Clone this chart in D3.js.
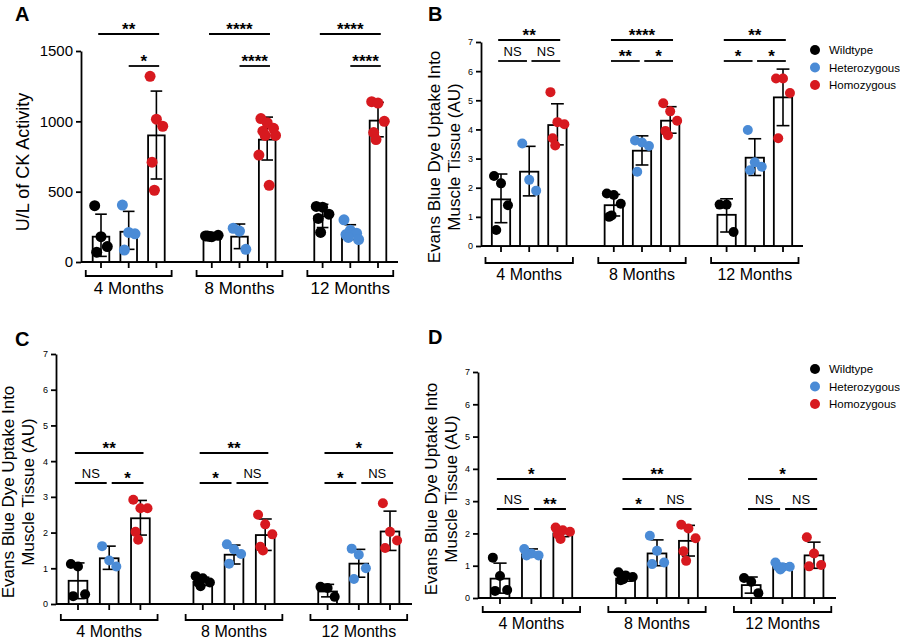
<!DOCTYPE html>
<html><head><meta charset="utf-8">
<script src="https://cdn.jsdelivr.net/npm/d3@7"></script>
<style>body{margin:0;background:#fff;font-family:"Liberation Sans",Arial,sans-serif}</style>
</head><body><svg id="fig" width="900" height="638"></svg>
<script>
// data: group order = 4M (WT,Het,Hom), 8M, 12M
var months = ["4 Months", "8 Months", "12 Months"];
var genotypes = ["Wildtype", "Heterozygous", "Homozygous"];
var colors = ["#000000", "#4a8bd6", "#d7191f"];

var aMeans = [180, 215, 900, 185, 180, 870, 325, 205, 1005];
var aErr = [[40,340],[90,360],[590,1215],[175,195],[95,270],[725,1030],[245,410],[160,265],[890,1135]];
var aPoints = [[400,180,110,70],[405,210,200,85],[1320,1015,965,710,510],[185,180,190,185,182],[240,220,90],
  [1020,990,950,930,900,900,760,545],[395,390,340,310,210],[300,225,205,195,175,160],[1140,1130,1000,920,870]];
var aSig = [["**","*"],["****","****"],["****","****"]];

var bMeans = [1.6, 2.55, 4.15, 1.4, 3.27, 4.3, 1.07, 3.03, 5.1];
var bErr = [[0.8,2.47],[1.72,3.42],[3.47,4.88],[1.03,1.77],[2.78,3.78],[3.87,4.78],[0.48,1.62],[2.42,3.68],[4.13,6.07]];
var bPoints = [[2.4,2.15,1.4,0.55],[3.52,2.27,1.9],[5.28,4.25,4.18,3.7,3.45],[1.8,1.75,1.45,1.0,1.05],
  [3.62,3.55,3.43,2.55],[4.9,4.62,4.3,3.95,3.8],[1.42,1.42,0.48],[3.98,2.87,2.72,2.6],[5.75,5.75,5.25,3.7]];
var bSig = [["**","NS","NS"],["****","**","*"],["**","*","*"]];

var cMeans = [0.65, 1.28, 2.4, 0.62, 1.38, 1.93, 0.35, 1.13, 2.03];
var cErr = [[0.15,1.15],[0.97,1.62],[1.93,2.9],[0.52,0.75],[1.12,1.65],[1.5,2.38],[0.2,0.55],[0.75,1.53],[1.5,2.6]];
var cPoints = [[1.12,1.05,0.27,0.22],[1.62,1.22,1.05],[2.92,2.68,2.68,2.02,1.8],[0.78,0.72,0.6,0.6,0.5],
  [1.67,1.53,1.4,1.13],[2.5,2.23,1.95,1.6,1.5],[0.48,0.45,0.2],[1.55,1.38,1.0,0.7],[2.82,2.02,1.78,1.57]];
var cSig = [["**","NS","*"],["**","*","NS"],["*","*","NS"]];

var dMeans = [0.6, 1.35, 2.0, 0.6, 1.38, 1.77, 0.4, 0.97, 1.32];
var dErr = [[0.15,1.08],[1.28,1.52],[1.9,2.12],[0.52,0.68],[1.0,1.8],[1.3,2.25],[0.15,0.65],[0.9,1.05],[0.92,1.73]];
var dPoints = [[1.25,0.68,0.25,0.22],[1.52,1.38,1.32,1.32],[2.18,2.1,2.05,1.97,1.83],[0.8,0.7,0.65,0.55,0.58],
  [1.93,1.46,1.1,1.05],[2.27,2.15,1.85,1.45,1.15],[0.62,0.5,0.15],[1.1,0.95,0.97,0.98,0.88],[1.88,1.38,1.02,0.98]];
var dSig = [["*","NS","**"],["**","*","NS"],["*","NS","NS"]];

var svg = d3.select("#fig");

function drawPanel(cfg) {
  var g = svg.append("g");
  var y = d3.scaleLinear().domain([0, cfg.yMax]).range([cfg.y0, cfg.yTop]);
  // 11 slots: 3 bars + a gap per group
  var slots = [];
  for (var i = 0; i < 9; i++) slots.push(i + Math.floor(i / 3));
  var x = d3.scaleLinear().domain([0, 10]).range([cfg.c0, cfg.c1]);
  var step = x(1) - x(0);
  var bw = step * cfg.bwFrac;

  // y axis
  var yAxis = d3.axisLeft(y).tickValues(cfg.ticks).tickFormat(d3.format("d"))
    .tickSize(5).tickSizeOuter(0).tickPadding(3);
  var ya = g.append("g").attr("transform", `translate(${cfg.ax},0)`).call(yAxis);
  ya.selectAll("text").attr("font-size", cfg.tickFont).attr("fill", "#000");
  ya.selectAll("line,path").attr("stroke", "#000").attr("stroke-width", 1.8);
  g.append("line").attr("x1", cfg.ax).attr("x2", cfg.axEnd).attr("y1", cfg.y0).attr("y2", cfg.y0)
    .attr("stroke", "#000").attr("stroke-width", 1.8);

  // bars, error bars, points
  cfg.means.forEach(function(m, i) {
    var cx = x(slots[i]);
    g.append("rect").attr("x", cx - bw / 2).attr("y", y(m)).attr("width", bw).attr("height", cfg.y0 - y(m))
      .attr("fill", "#fff").attr("stroke", "#000").attr("stroke-width", 1.8);
    g.append("line").attr("x1", cx).attr("x2", cx).attr("y1", cfg.y0).attr("y2", cfg.y0 + 6)
      .attr("stroke", "#000").attr("stroke-width", 1.8);
    var e = cfg.err[i];
    g.append("line").attr("x1", cx).attr("x2", cx).attr("y1", y(e[0])).attr("y2", y(e[1]))
      .attr("stroke", "#000").attr("stroke-width", 1.6);
    [e[0], e[1]].forEach(function(v) {
      g.append("line").attr("x1", cx - bw * 0.35).attr("x2", cx + bw * 0.35).attr("y1", y(v)).attr("y2", y(v))
        .attr("stroke", "#000").attr("stroke-width", 1.6);
    });
    cfg.points[i].forEach(function(v, k) {
      var off = ((k % 3) - 1) * bw * 0.38 + (k >= 3 ? bw * 0.12 * (k % 2 ? 1 : -1) : 0);
      g.append("circle").attr("cx", cx + off).attr("cy", y(v)).attr("r", cfg.r)
        .attr("fill", colors[i % 3]);
    });
  });

  // group brackets and labels
  months.forEach(function(mo, j) {
    var l = x(j * 4) - step * 0.55, r = x(j * 4 + 2) + step * 0.55;
    g.append("path").attr("d", `M${l},${cfg.brY - 6}V${cfg.brY}H${r}V${cfg.brY - 6}`)
      .attr("fill", "none").attr("stroke", "#000").attr("stroke-width", 1.8);
    g.append("text").attr("x", (l + r) / 2).attr("y", cfg.brY + cfg.monthFont + 1).attr("text-anchor", "middle")
      .attr("font-size", cfg.monthFont).text(mo);
  });

  // significance lines
  cfg.sig.forEach(function(s, j) {
    var a = x(j * 4), b = x(j * 4 + 1), c = x(j * 4 + 2);
    function sigLine(x1, x2, yy, label) {
      g.append("line").attr("x1", x1).attr("x2", x2).attr("y1", yy).attr("y2", yy)
        .attr("stroke", "#000").attr("stroke-width", 1.8);
      var ns = label === "NS";
      g.append("text").attr("x", (x1 + x2) / 2).attr("y", ns ? yy - 5 : yy + 1).attr("text-anchor", "middle")
        .attr("font-size", ns ? 13 : 17).attr("font-weight", ns ? "normal" : "bold").text(label);
    }
    var g2 = step * 0.08;
    sigLine(a - step * 0.1, c + step * 0.1, cfg.sig1, s[0]);
    if (s.length === 2) {
      sigLine(b, c + step * 0.1, cfg.sig2, s[1]);
    } else {
      sigLine(a - step * 0.1, b - g2, cfg.sig2, s[1]);
      sigLine(b + g2, c + step * 0.1, cfg.sig2, s[2]);
    }
  });

  // y label
  var yl = g.append("text").attr("transform", `translate(${cfg.ylX},${cfg.ylY}) rotate(-90)`)
    .attr("text-anchor", "middle").attr("font-size", cfg.ylFont);
  cfg.ylabel.forEach(function(t, k) {
    yl.append("tspan").attr("x", 0).attr("dy", k === 0 ? 0 : cfg.ylFont * 1.2).text(t);
  });
  g.append("text").attr("x", cfg.letX).attr("y", cfg.letY).attr("font-size", 20).attr("font-weight", "bold")
    .text(cfg.letter);

  if (cfg.legend) {
    genotypes.forEach(function(name, k) {
      g.append("circle").attr("cx", cfg.legend[0]).attr("cy", cfg.legend[1] + k * 17.5).attr("r", 5).attr("fill", colors[k]);
      g.append("text").attr("x", cfg.legend[0] + 14).attr("y", cfg.legend[1] + k * 17.5 + 4)
        .attr("font-size", 11.5).text(name);
    });
  }
}

var evansLabel = ["Evans Blue Dye Uptake Into", "Muscle Tissue (AU)"];

drawPanel({letter: "A", letX: 15, letY: 21, means: aMeans, err: aErr, points: aPoints, sig: aSig,
  yMax: 1500, ticks: [0, 500, 1000, 1500], y0: 262, yTop: 51, ax: 81, axEnd: 398, c0: 101, c1: 378, bwFrac: 0.6,
  tickFont: 15, monthFont: 17, brY: 276, sig1: 34, sig2: 66, r: 5.5,
  ylabel: ["U/L of CK Activity"], ylX: 29, ylY: 162, ylFont: 18});

drawPanel({letter: "B", letX: 428, letY: 21, means: bMeans, err: bErr, points: bPoints, sig: bSig,
  yMax: 7, ticks: [0,1,2,3,4,5,6,7], y0: 246, yTop: 42, ax: 481, axEnd: 803, c0: 501, c1: 783, bwFrac: 0.65,
  tickFont: 9, monthFont: 16, brY: 263, sig1: 40, sig2: 61, r: 5,
  ylabel: evansLabel, ylX: 440, ylY: 157, ylFont: 17, legend: [815, 50]});

drawPanel({letter: "C", letX: 15, letY: 346, means: cMeans, err: cErr, points: cPoints, sig: cSig,
  yMax: 7, ticks: [0,1,2,3,4,5,6,7], y0: 604, yTop: 354, ax: 56, axEnd: 412, c0: 78, c1: 390, bwFrac: 0.6,
  tickFont: 9, monthFont: 16, brY: 620, sig1: 453, sig2: 483, r: 5,
  ylabel: evansLabel, ylX: 14, ylY: 492, ylFont: 17});

drawPanel({letter: "D", letX: 428, letY: 344, means: dMeans, err: dErr, points: dPoints, sig: dSig,
  yMax: 7, ticks: [0,1,2,3,4,5,6,7], y0: 598, yTop: 372, ax: 478, axEnd: 836, c0: 500, c1: 814, bwFrac: 0.6,
  tickFont: 9, monthFont: 16, brY: 612, sig1: 479, sig2: 509, r: 5,
  ylabel: evansLabel, ylX: 437, ylY: 489, ylFont: 17, legend: [815, 369]});
</script></body></html>
